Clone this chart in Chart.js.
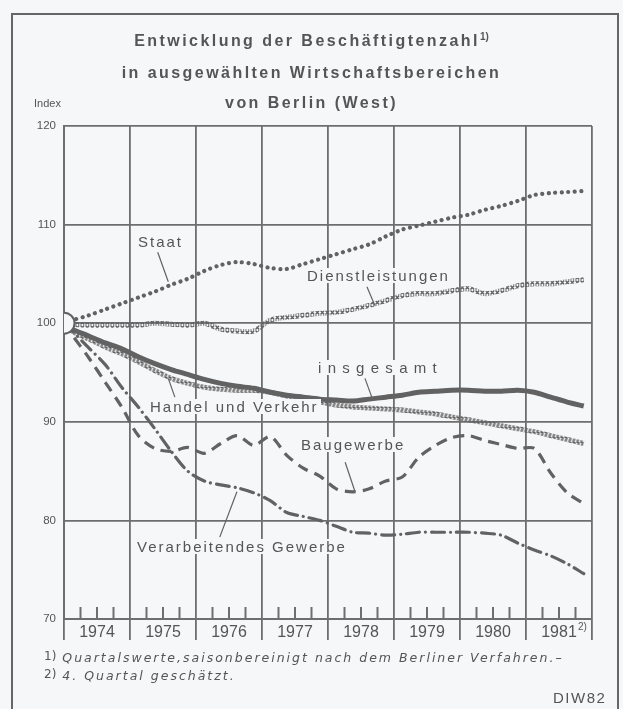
<!DOCTYPE html>
<html lang="de">
<head>
<meta charset="UTF-8">
<title>Entwicklung der Beschäftigtenzahl – Berlin (West)</title>
<script src="https://cdn.jsdelivr.net/npm/chart.js"></script>
<style>
  html, body { margin: 0; padding: 0; background: #f6f7f9; }
  #wrap { position: relative; width: 623px; height: 709px; overflow: hidden;
          font-family: "Liberation Sans", Arial, sans-serif; color: #555; }
  #frame { position: absolute; left: 11px; top: 13px; width: 604px; height: 720px;
           border: 2.5px solid #666; border-bottom: none; }
  canvas { position: absolute; left: 0; top: 0; }
  .t { position: absolute; white-space: nowrap; line-height: 1; }
  .title { left: 0; width: 623px; text-align: center; font-weight: bold; font-size: 16px; letter-spacing: 2.45px; }
  .title sup { font-size: 10px; letter-spacing: 0; vertical-align: 6px; }
  .lab { font-size: 15px; letter-spacing: 2px; background: #f6f7f9; padding: 0 2px; }
  .fn { font-family: "DejaVu Sans", sans-serif; font-style: italic; font-size: 12.5px; letter-spacing: 2px; }
  .fn b { font-weight: normal; font-style: normal; font-size: 12px; letter-spacing: 0; position: relative; top: -2px; }
</style>
</head>
<body>
<div id="wrap">
  <div id="frame"></div>
  <canvas id="chart" width="623" height="709"></canvas>

  <div class="t title" style="top:32px">Entwicklung der Beschäftigtenzahl<sup>1)</sup></div>
  <div class="t title" style="top:65px">in ausgewählten Wirtschaftsbereichen</div>
  <div class="t title" style="top:95px">von Berlin (West)</div>
  <div class="t" style="left:34px;top:98px;font-size:11px">Index</div>

  <div class="t lab" style="left:136px;top:234px">Staat</div>
  <div class="t lab" style="left:305px;top:268px">Dienstleistungen</div>
  <div class="t lab" style="left:316px;top:360px;letter-spacing:6.3px">insgesamt</div>
  <div class="t lab" style="left:148px;top:399px">Handel und Verkehr</div>
  <div class="t lab" style="left:299px;top:437px">Baugewerbe</div>
  <div class="t lab" style="left:135px;top:539px">Verarbeitendes Gewerbe</div>

  <div class="t" style="left:578px;top:622px;font-size:10px">2)</div>

  <div class="t fn" style="left:44px;top:652px"><b>1)</b> Quartalswerte,saisonbereinigt nach dem Berliner Verfahren.–</div>
  <div class="t fn" style="left:44px;top:670px"><b>2)</b> 4. Quartal geschätzt.</div>
  <div class="t" style="left:553px;top:690px;font-size:15px;letter-spacing:1.5px">DIW82</div>
</div>

<script>
  // Jahre und Index-Basis (Anfang 1974 = 100)
  const years = [1974, 1975, 1976, 1977, 1978, 1979, 1980, 1981];
  const yTicks = [70, 80, 90, 100, 110, 120];
  const baseValue = 100;

  // Quartalswerte 1974 Q1 ... 1981 Q4
  const staat = [100.3, 100.8, 101.4, 102.0, 102.6, 103.2, 103.9, 104.5,
                 105.3, 105.9, 106.2, 106.0, 105.6, 105.5, 106.0, 106.5,
                 107.0, 107.5, 108.0, 108.8, 109.5, 109.9, 110.3, 110.7,
                 111.0, 111.5, 111.9, 112.4, 113.0, 113.2, 113.3, 113.4];
  const dienstleistungen = [99.9, 99.8, 99.8, 99.8, 99.8, 100.0, 99.9, 99.8,
                            100.0, 99.4, 99.2, 99.2, 100.3, 100.6, 100.8, 101.0,
                            101.1, 101.4, 101.8, 102.3, 102.8, 103.0, 103.0, 103.3,
                            103.5, 103.0, 103.3, 103.8, 104.0, 104.0, 104.2, 104.4];
  const insgesamt = [99.4, 98.7, 98.0, 97.4, 96.6, 95.9, 95.3, 94.8,
                     94.3, 93.9, 93.6, 93.4, 93.0, 92.7, 92.5, 92.3,
                     92.2, 92.1, 92.3, 92.5, 92.7, 93.0, 93.1, 93.2,
                     93.2, 93.1, 93.1, 93.2, 93.0, 92.5, 92.0, 91.6];
  const handelVerkehr = [99.2, 98.4, 97.6, 96.9, 96.1, 95.2, 94.4, 93.9,
                         93.5, 93.3, 93.2, 93.2, 93.0, 92.6, 92.2, 92.0,
                         91.7, 91.5, 91.4, 91.3, 91.2, 91.0, 90.8, 90.5,
                         90.2, 89.9, 89.6, 89.3, 89.0, 88.6, 88.2, 87.8];
  const baugewerbe = [98.8, 96.5, 94.0, 91.5, 88.6, 87.3, 87.0, 87.4,
                      86.8, 87.8, 88.6, 87.6, 88.5, 86.6, 85.3, 84.5,
                      83.2, 82.9, 83.2, 84.0, 84.4, 86.4, 87.6, 88.4,
                      88.6, 88.1, 87.7, 87.3, 87.3, 84.8, 82.8, 81.7];
  const verarbeitendes = [99.2, 97.5, 95.8, 93.5, 91.5, 89.3, 87.0, 85.0,
                          84.0, 83.6, 83.3, 82.8, 82.0, 80.8, 80.4, 80.0,
                          79.4, 78.8, 78.7, 78.5, 78.6, 78.8, 78.8, 78.8,
                          78.8, 78.7, 78.5, 77.7, 77.0, 76.4, 75.6, 74.6];

  const ink = '#626262';
  const grid = '#6e6e6e';
  const paper = '#f6f7f9';

  const quarterX = years.flatMap(y => [0.125, 0.375, 0.625, 0.875].map(q => y + q));
  function series(vals) {
    return [{ x: years[0], y: baseValue }].concat(vals.map((v, i) => ({ x: quarterX[i], y: v })));
  }

  function makePattern(w, h, draw) {
    const c = document.createElement('canvas');
    c.width = w; c.height = h;
    const g = c.getContext('2d');
    draw(g);
    return g.createPattern(c, 'repeat');
  }
  const crossPattern = makePattern(5, 5, g => {
    g.strokeStyle = ink; g.lineWidth = 1.4;
    g.beginPath();
    g.moveTo(0.5, 0.5); g.lineTo(4.2, 4.5);
    g.moveTo(4.2, 0.5); g.lineTo(0.5, 4.5);
    g.stroke();
  });
  const sPattern = makePattern(4, 5, g => {
    g.strokeStyle = ink; g.lineWidth = 1.2;
    g.beginPath();
    g.moveTo(3.3, 0.8); g.lineTo(1, 0.8); g.lineTo(1, 2.5);
    g.lineTo(3, 2.5); g.lineTo(3, 4.2); g.lineTo(0.7, 4.2);
    g.stroke();
  });

  // Leitlinien von den Beschriftungen zu den Kurven (Datenkoordinaten)
  const leaders = [
    [[1975.42, 107.2], [1975.58, 104.2]],
    [[1978.59, 103.7], [1978.71, 101.8]],
    [[1978.56, 94.4], [1978.68, 92.2]],
    [[1975.68, 92.5], [1975.58, 94.4]],
    [[1978.26, 85.9], [1978.41, 82.9]],
    [[1976.36, 78.3], [1976.62, 82.9]]
  ];

  const extras = {
    id: 'extras',
    beforeDatasetsDraw(chart) {
      const { ctx, scales: { x, y } } = chart;
      const bottom = y.getPixelForValue(yTicks[0]);
      ctx.save();
      ctx.strokeStyle = grid;
      ctx.lineWidth = 2;
      years.forEach(yr => [0.25, 0.5, 0.75].forEach(q => {
        const px = x.getPixelForValue(yr + q);
        ctx.beginPath();
        ctx.moveTo(px, bottom);
        ctx.lineTo(px, bottom - 12);
        ctx.stroke();
      }));
      ctx.strokeStyle = ink;
      ctx.lineWidth = 1.2;
      leaders.forEach(([a, b]) => {
        ctx.beginPath();
        ctx.moveTo(x.getPixelForValue(a[0]), y.getPixelForValue(a[1]));
        ctx.lineTo(x.getPixelForValue(b[0]), y.getPixelForValue(b[1]));
        ctx.stroke();
      });
      ctx.restore();
    }
  };

  const xTicks = years.flatMap(y => [y, y + 0.5]).concat([years[years.length - 1] + 1]);

  const line = { pointRadius: 0, fill: false, tension: 0.3 };

  new Chart(document.getElementById('chart'), {
    type: 'line',
    data: {
      datasets: [
        { data: [{ x: years[0], y: baseValue }], showLine: false, pointRadius: 10.5, borderWidth: 2,
          pointBackgroundColor: paper, pointBorderColor: ink, pointBorderWidth: 2, order: -1 },
        { ...line, label: 'Staat', data: series(staat), borderColor: ink, borderWidth: 4.2,
          borderDash: [0.01, 6.5], borderCapStyle: 'round' },
        { ...line, label: 'Dienstleistungen', data: series(dienstleistungen), borderColor: crossPattern, borderWidth: 5 },
        { ...line, label: 'Handel und Verkehr', data: series(handelVerkehr), borderColor: sPattern, borderWidth: 5 },
        { ...line, label: 'insgesamt', data: series(insgesamt), borderColor: ink, borderWidth: 5 },
        { ...line, label: 'Baugewerbe', data: series(baugewerbe), borderColor: ink, borderWidth: 3.2,
          borderDash: [11, 7] },
        { ...line, label: 'Verarbeitendes Gewerbe', data: series(verarbeitendes), borderColor: ink, borderWidth: 3.2,
          borderDash: [13, 6, 0.01, 6], borderCapStyle: 'round' }
      ]
    },
    options: {
      responsive: false,
      animation: false,
      events: [],
      layout: { padding: { top: 126, right: 31, left: 0, bottom: 0 } },
      plugins: { legend: { display: false }, tooltip: { enabled: false }, title: { display: false } },
      scales: {
        x: {
          type: 'linear',
          min: years[0],
          max: years[years.length - 1] + 1,
          afterBuildTicks: s => { s.ticks = xTicks.map(v => ({ value: v })); },
          afterFit: s => { s.height = 90; },
          grid: {
            color: c => (c.tick && Number.isInteger(c.tick.value)) ? grid : 'rgba(0,0,0,0)',
            lineWidth: 1.8,
            drawTicks: true,
            tickLength: 21
          },
          border: { color: grid, width: 2 },
          ticks: {
            autoSkip: false,
            maxRotation: 0,
            padding: -17,
            color: '#555',
            font: { family: '"Liberation Sans Narrow", "Liberation Sans", sans-serif', size: 16 },
            callback: v => Number.isInteger(v) ? '' : String(Math.floor(v))
          }
        },
        y: {
          min: yTicks[0],
          max: yTicks[yTicks.length - 1],
          afterFit: s => { s.width = 64; },
          grid: { color: grid, lineWidth: 1.8, drawTicks: false },
          border: { color: grid, width: 2 },
          ticks: {
            stepSize: 10,
            padding: 8,
            color: '#555',
            font: { family: '"Liberation Sans", sans-serif', size: 11.5 }
          }
        }
      }
    },
    plugins: [extras]
  });
</script>
</body>
</html>
